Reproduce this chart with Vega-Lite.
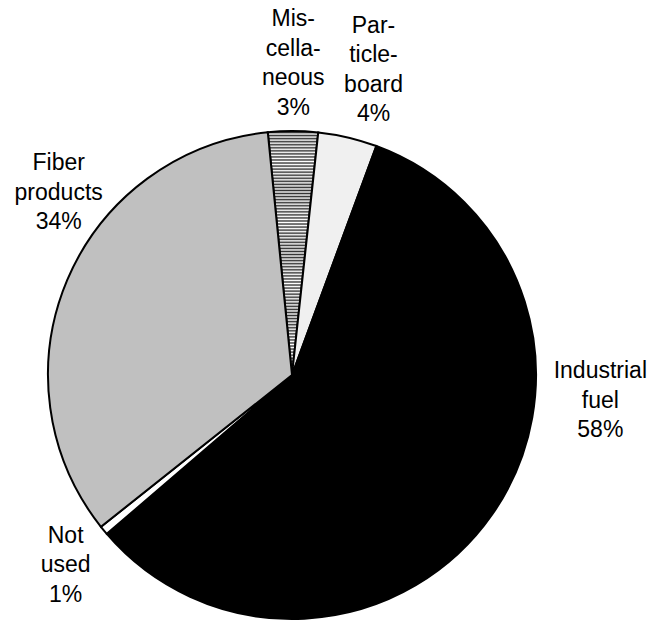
{
  "$schema": "https://vega.github.io/schema/vega-lite/v6.json",
  "width": 488,
  "height": 488,
  "autosize": "none",
  "padding": {"left": 48, "top": 131, "right": 127, "bottom": 2},
  "background": "#ffffff",
  "config": {"view": {"stroke": null}},
  "data": {
    "values": [
      {"category": "Miscellaneous", "value": 3.3, "order": 1, "label": "Mis-\ncella-\nneous\n3%"},
      {"category": "Particleboard", "value": 3.9, "order": 2, "label": "Par-\nticle-\nboard\n4%"},
      {"category": "Industrial fuel", "value": 58.1, "order": 3, "label": "Industrial\nfuel\n58%"},
      {"category": "Not used", "value": 0.6, "order": 4, "label": "Not\nused\n1%"},
      {"category": "Fiber products", "value": 34.1, "order": 5, "label": "Fiber\nproducts\n34%"}
    ]
  },
  "layer": [
    {
      "mark": {"type": "arc", "stroke": "#000000", "strokeWidth": 2},
      "encoding": {
        "theta": {"field": "value", "type": "quantitative", "stack": true, "scale": {"range": [-0.0995, 6.1837]}},
        "order": {"field": "order", "type": "quantitative"},
        "fill": {
          "condition": [
            {"test": "datum.category === 'Miscellaneous'", "value": {"gradient": "linear", "x1": 0, "y1": 0, "x2": 0, "y2": 1, "stops": [
              {"offset":0,"color":"#fff"},{"offset":0.00625,"color":"#333"},{"offset":0.0125,"color":"#fff"},{"offset":0.01875,"color":"#333"},{"offset":0.025,"color":"#fff"},{"offset":0.03125,"color":"#333"},{"offset":0.0375,"color":"#fff"},{"offset":0.04375,"color":"#333"},{"offset":0.05,"color":"#fff"},{"offset":0.05625,"color":"#333"},{"offset":0.0625,"color":"#fff"},{"offset":0.06875,"color":"#333"},{"offset":0.075,"color":"#fff"},{"offset":0.08125,"color":"#333"},{"offset":0.0875,"color":"#fff"},{"offset":0.09375,"color":"#333"},
              {"offset":0.1,"color":"#fff"},{"offset":0.10625,"color":"#333"},{"offset":0.1125,"color":"#fff"},{"offset":0.11875,"color":"#333"},{"offset":0.125,"color":"#fff"},{"offset":0.13125,"color":"#333"},{"offset":0.1375,"color":"#fff"},{"offset":0.14375,"color":"#333"},{"offset":0.15,"color":"#fff"},{"offset":0.15625,"color":"#333"},{"offset":0.1625,"color":"#fff"},{"offset":0.16875,"color":"#333"},{"offset":0.175,"color":"#fff"},{"offset":0.18125,"color":"#333"},{"offset":0.1875,"color":"#fff"},{"offset":0.19375,"color":"#333"},
              {"offset":0.2,"color":"#fff"},{"offset":0.20625,"color":"#333"},{"offset":0.2125,"color":"#fff"},{"offset":0.21875,"color":"#333"},{"offset":0.225,"color":"#fff"},{"offset":0.23125,"color":"#333"},{"offset":0.2375,"color":"#fff"},{"offset":0.24375,"color":"#333"},{"offset":0.25,"color":"#fff"},{"offset":0.25625,"color":"#333"},{"offset":0.2625,"color":"#fff"},{"offset":0.26875,"color":"#333"},{"offset":0.275,"color":"#fff"},{"offset":0.28125,"color":"#333"},{"offset":0.2875,"color":"#fff"},{"offset":0.29375,"color":"#333"},
              {"offset":0.3,"color":"#fff"},{"offset":0.30625,"color":"#333"},{"offset":0.3125,"color":"#fff"},{"offset":0.31875,"color":"#333"},{"offset":0.325,"color":"#fff"},{"offset":0.33125,"color":"#333"},{"offset":0.3375,"color":"#fff"},{"offset":0.34375,"color":"#333"},{"offset":0.35,"color":"#fff"},{"offset":0.35625,"color":"#333"},{"offset":0.3625,"color":"#fff"},{"offset":0.36875,"color":"#333"},{"offset":0.375,"color":"#fff"},{"offset":0.38125,"color":"#333"},{"offset":0.3875,"color":"#fff"},{"offset":0.39375,"color":"#333"},
              {"offset":0.4,"color":"#fff"},{"offset":0.40625,"color":"#333"},{"offset":0.4125,"color":"#fff"},{"offset":0.41875,"color":"#333"},{"offset":0.425,"color":"#fff"},{"offset":0.43125,"color":"#333"},{"offset":0.4375,"color":"#fff"},{"offset":0.44375,"color":"#333"},{"offset":0.45,"color":"#fff"},{"offset":0.45625,"color":"#333"},{"offset":0.4625,"color":"#fff"},{"offset":0.46875,"color":"#333"},{"offset":0.475,"color":"#fff"},{"offset":0.48125,"color":"#333"},{"offset":0.4875,"color":"#fff"},{"offset":0.49375,"color":"#333"},
              {"offset":0.5,"color":"#fff"},{"offset":0.50625,"color":"#333"},{"offset":0.5125,"color":"#fff"},{"offset":0.51875,"color":"#333"},{"offset":0.525,"color":"#fff"},{"offset":0.53125,"color":"#333"},{"offset":0.5375,"color":"#fff"},{"offset":0.54375,"color":"#333"},{"offset":0.55,"color":"#fff"},{"offset":0.55625,"color":"#333"},{"offset":0.5625,"color":"#fff"},{"offset":0.56875,"color":"#333"},{"offset":0.575,"color":"#fff"},{"offset":0.58125,"color":"#333"},{"offset":0.5875,"color":"#fff"},{"offset":0.59375,"color":"#333"},
              {"offset":0.6,"color":"#fff"},{"offset":0.60625,"color":"#333"},{"offset":0.6125,"color":"#fff"},{"offset":0.61875,"color":"#333"},{"offset":0.625,"color":"#fff"},{"offset":0.63125,"color":"#333"},{"offset":0.6375,"color":"#fff"},{"offset":0.64375,"color":"#333"},{"offset":0.65,"color":"#fff"},{"offset":0.65625,"color":"#333"},{"offset":0.6625,"color":"#fff"},{"offset":0.66875,"color":"#333"},{"offset":0.675,"color":"#fff"},{"offset":0.68125,"color":"#333"},{"offset":0.6875,"color":"#fff"},{"offset":0.69375,"color":"#333"},
              {"offset":0.7,"color":"#fff"},{"offset":0.70625,"color":"#333"},{"offset":0.7125,"color":"#fff"},{"offset":0.71875,"color":"#333"},{"offset":0.725,"color":"#fff"},{"offset":0.73125,"color":"#333"},{"offset":0.7375,"color":"#fff"},{"offset":0.74375,"color":"#333"},{"offset":0.75,"color":"#fff"},{"offset":0.75625,"color":"#333"},{"offset":0.7625,"color":"#fff"},{"offset":0.76875,"color":"#333"},{"offset":0.775,"color":"#fff"},{"offset":0.78125,"color":"#333"},{"offset":0.7875,"color":"#fff"},{"offset":0.79375,"color":"#333"},
              {"offset":0.8,"color":"#fff"},{"offset":0.80625,"color":"#333"},{"offset":0.8125,"color":"#fff"},{"offset":0.81875,"color":"#333"},{"offset":0.825,"color":"#fff"},{"offset":0.83125,"color":"#333"},{"offset":0.8375,"color":"#fff"},{"offset":0.84375,"color":"#333"},{"offset":0.85,"color":"#fff"},{"offset":0.85625,"color":"#333"},{"offset":0.8625,"color":"#fff"},{"offset":0.86875,"color":"#333"},{"offset":0.875,"color":"#fff"},{"offset":0.88125,"color":"#333"},{"offset":0.8875,"color":"#fff"},{"offset":0.89375,"color":"#333"},
              {"offset":0.9,"color":"#fff"},{"offset":0.90625,"color":"#333"},{"offset":0.9125,"color":"#fff"},{"offset":0.91875,"color":"#333"},{"offset":0.925,"color":"#fff"},{"offset":0.93125,"color":"#333"},{"offset":0.9375,"color":"#fff"},{"offset":0.94375,"color":"#333"},{"offset":0.95,"color":"#fff"},{"offset":0.95625,"color":"#333"},{"offset":0.9625,"color":"#fff"},{"offset":0.96875,"color":"#333"},{"offset":0.975,"color":"#fff"},{"offset":0.98125,"color":"#333"},{"offset":0.9875,"color":"#fff"},{"offset":0.99375,"color":"#333"},
              {"offset":1,"color":"#fff"}
            ]}},
            {"test": "datum.category === 'Particleboard'", "value": "#f0f0f0"},
            {"test": "datum.category === 'Fiber products'", "value": "#c0c0c0"},
            {"test": "datum.category === 'Not used'", "value": "#ffffff"}
          ],
          "value": "#000000"
        }
      }
    },
    {
      "mark": {
        "type": "text",
        "radius": 300,
        "font": "Liberation Sans",
        "fontSize": 23,
        "lineHeight": 29.5,
        "lineBreak": "\n",
        "align": "center",
        "baseline": "middle",
        "color": "#000000",
        "dx": {"expr": "datum.category === 'Industrial fuel' ? 62 : datum.category === 'Fiber products' ? 43 : datum.category === 'Particleboard' ? 13 : datum.category === 'Not used' ? 5 : 0"},
        "dy": {"expr": "datum.category === 'Industrial fuel' ? -175 : datum.category === 'Fiber products' ? -95 : datum.category === 'Particleboard' ? -57 : datum.category === 'Not used' ? -30 : -56"}
      },
      "encoding": {
        "theta": {"field": "value", "type": "quantitative", "stack": true, "scale": {"range": [-0.0995, 6.1837]}},
        "order": {"field": "order", "type": "quantitative"},
        "text": {"field": "label", "type": "nominal"}
      }
    }
  ]
}
